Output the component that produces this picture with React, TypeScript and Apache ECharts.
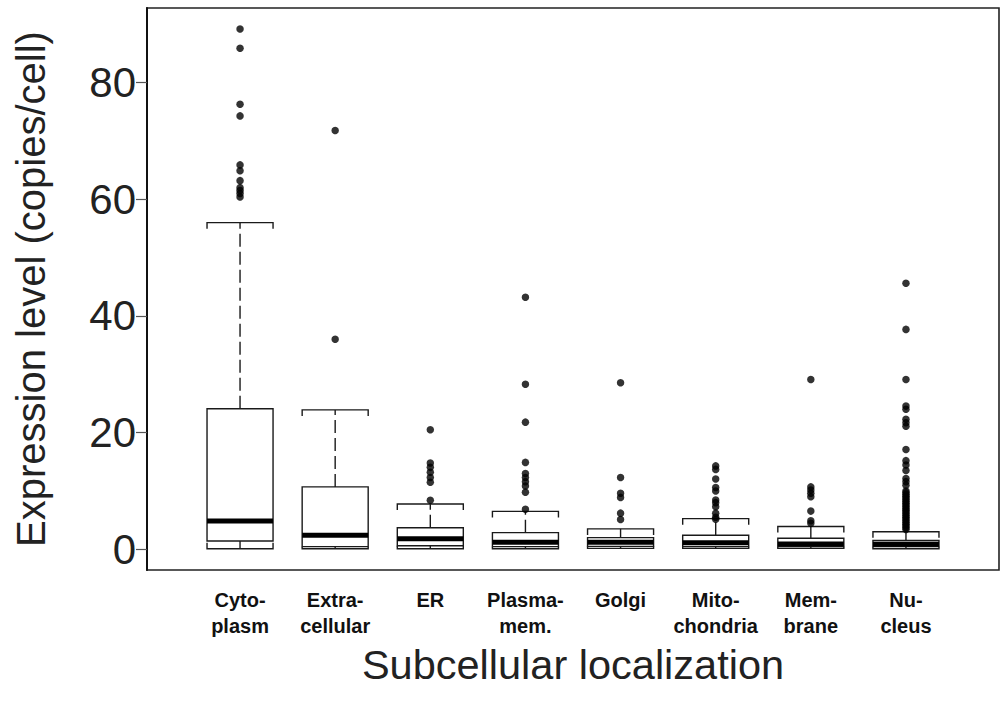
import React, { useEffect, useRef } from "react";
import * as echarts from "echarts";

const categories = [
  "Cyto-\nplasm",
  "Extra-\ncellular",
  "ER",
  "Plasma-\nmem.",
  "Golgi",
  "Mito-\nchondria",
  "Mem-\nbrane",
  "Nu-\ncleus",
];
const whiskerLow = [0.1, 0.1, 0.1, 0.1, 0.15, 0.15, 0.15, 0.1];
const q1 = [1.42, 0.45, 0.6, 0.45, 0.5, 0.45, 0.45, 0.45];
const median = [4.85, 2.4, 1.8, 1.2, 1.2, 1.13, 0.9, 0.85];
const q3 = [24.1, 10.7, 3.7, 2.85, 2.0, 2.4, 1.9, 1.5];
const whiskerHigh = [56.0, 23.9, 7.76, 6.5, 3.5, 5.25, 3.9, 3.0];
const outliers: number[][] = [
  [89.2, 85.9, 76.3, 74.3, 65.9, 64.9, 63.2, 62.0, 61.5, 61.0, 60.4],
  [71.8, 36.0],
  [20.5, 14.8, 14.05, 13.2, 12.3, 11.5, 8.4],
  [43.2, 28.3, 21.8, 14.9, 13.0, 12.3, 11.6, 10.85, 9.8, 6.85],
  [28.55, 12.3, 9.6, 8.9, 6.2, 5.1],
  [14.3, 13.7, 12.05, 10.6, 10.0, 8.45, 8.0, 7.3, 6.2, 5.5, 5.15],
  [29.1, 10.7, 10.15, 9.6, 9.0, 6.55, 4.9, 4.45],
  [
    45.6, 37.7, 29.1, 24.55, 24.0, 22.3, 21.7, 21.1, 17.1, 15.2, 14.45, 13.5,
    12.15, 11.6, 11.0, 10.0, 9.7, 9.4, 9.1, 8.8, 8.5, 8.2, 7.9, 7.6, 7.3, 7.0,
    6.7, 6.4, 6.1, 5.8, 5.5, 5.2, 4.9, 4.6, 4.3, 4.0, 3.7, 3.4,
  ],
];
const yTicks = [0, 20, 40, 60, 80];
const xPositions = [1, 2, 3, 4, 5, 6, 7, 8];

const LINE = "#1a1a1a";
const FONT = "Liberation Sans, Arial, sans-serif";

export default function App() {
  const ref = useRef<HTMLDivElement>(null);
  useEffect(() => {
    if (!ref.current) return;
    const chart = echarts.init(ref.current, null, { renderer: "svg" });
    const boxData = xPositions.map((x, i) => [
      x,
      whiskerLow[i],
      q1[i],
      median[i],
      q3[i],
      whiskerHigh[i],
    ]);
    const pointData: number[][] = [];
    outliers.forEach((arr, i) => arr.forEach((v) => pointData.push([xPositions[i], v])));

    chart.setOption({
      animation: false,
      backgroundColor: "#ffffff",
      grid: {
        left: 147,
        right: 9,
        top: 8,
        bottom: 137,
        show: true,
        borderColor: "#222",
        borderWidth: 1.6,
        backgroundColor: "transparent",
      },
      xAxis: {
        type: "value",
        min: 0.022,
        max: 8.978,
        splitLine: { show: false },
        axisLine: { show: false },
        axisTick: { show: false },
        axisLabel: {
          customValues: xPositions,
          formatter: (v: number) => categories[Math.round(v) - 1] ?? "",
          fontFamily: FONT,
          fontWeight: "bold",
          fontSize: 20,
          lineHeight: 26,
          color: "#111",
          margin: 17,
          verticalAlign: "top",
        },
        name: "Subcellular localization",
        nameLocation: "middle",
        nameGap: 64,
        nameTextStyle: {
          fontFamily: FONT,
          fontSize: 41.5,
          color: "#222",
        },
      },
      yAxis: {
        type: "value",
        min: -3.55,
        max: 92.8,
        splitLine: { show: false },
        axisLine: { show: true, lineStyle: { color: "#111", width: 2 } },
        axisTick: {
          show: true,
          customValues: yTicks,
          length: 11,
          lineStyle: { color: "#555", width: 1.2 },
        },
        axisLabel: {
          customValues: yTicks,
          fontFamily: FONT,
          fontSize: 42,
          color: "#222",
          margin: 11,
        },
        name: "Expression level (copies/cell)",
        nameLocation: "middle",
        nameGap: 96,
        nameTextStyle: {
          fontFamily: FONT,
          fontSize: 40,
          color: "#222",
        },
      },
      series: [
        {
          type: "custom",
          data: boxData,
          encode: { x: 0, y: [1, 2, 3, 4, 5] },
          renderItem: (params: any, api: any) => {
            const x = api.value(0);
            const half = api.size([0.347, 0])[0];
            const lowP = api.coord([x, api.value(1)]);
            const q1P = api.coord([x, api.value(2)]);
            const medP = api.coord([x, api.value(3)]);
            const q3P = api.coord([x, api.value(4)]);
            const highP = api.coord([x, api.value(5)]);
            const cx = lowP[0];
            const tUp = Math.min(6, q3P[1] - highP[1]);
            const tLow = Math.min(6, lowP[1] - q1P[1]);
            const lineStyle = { stroke: LINE, lineWidth: 1.4, fill: "none" };
            return {
              type: "group",
              children: [
                {
                  type: "line",
                  shape: { x1: cx, y1: q3P[1], x2: cx, y2: highP[1] },
                  style: { stroke: LINE, lineWidth: 1.4, lineDash: [13, 5] },
                },
                {
                  type: "line",
                  shape: { x1: cx, y1: q1P[1], x2: cx, y2: lowP[1] },
                  style: { stroke: LINE, lineWidth: 1.4, lineDash: [13, 5] },
                },
                {
                  type: "polyline",
                  shape: {
                    points: [
                      [cx - half, highP[1] + tUp],
                      [cx - half, highP[1]],
                      [cx + half, highP[1]],
                      [cx + half, highP[1] + tUp],
                    ],
                  },
                  style: lineStyle,
                },
                {
                  type: "polyline",
                  shape: {
                    points: [
                      [cx - half, lowP[1] - tLow],
                      [cx - half, lowP[1]],
                      [cx + half, lowP[1]],
                      [cx + half, lowP[1] - tLow],
                    ],
                  },
                  style: lineStyle,
                },
                {
                  type: "rect",
                  shape: {
                    x: cx - half,
                    y: q3P[1],
                    width: half * 2,
                    height: q1P[1] - q3P[1],
                  },
                  style: { stroke: LINE, lineWidth: 1.4, fill: "#ffffff" },
                },
                {
                  type: "line",
                  shape: { x1: cx - half, y1: medP[1], x2: cx + half, y2: medP[1] },
                  style: { stroke: "#000", lineWidth: 5 },
                },
              ],
            };
          },
          z: 2,
        },
        {
          type: "scatter",
          data: pointData,
          symbol: "circle",
          symbolSize: 7.5,
          itemStyle: { color: "#000" },
          z: 3,
        },
      ],
    });
    return () => chart.dispose();
  }, []);
  return (
    <div
      ref={ref}
      style={{ width: 1008, height: 707, position: "absolute", left: 0, top: 0 }}
    />
  );
}
